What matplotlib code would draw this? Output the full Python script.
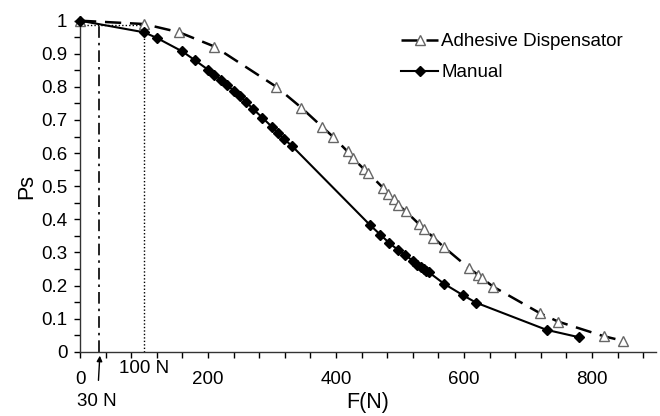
import matplotlib
matplotlib.use("Agg")
import matplotlib.pyplot as plt
from matplotlib.ticker import MultipleLocator

plt.rcParams['font.family'] = ['Liberation Sans', 'DejaVu Sans']

# Adhesive Dispensator
adh_F = [0, 100, 155, 210, 307, 346, 378, 395, 418, 426, 443, 450, 474, 482, 490,
         497, 509, 530, 538, 552, 568, 608, 622, 628, 646, 719, 747, 818, 848]
adh_P = [1.0, 0.99, 0.965, 0.922, 0.80, 0.737, 0.68, 0.65, 0.605, 0.585, 0.553, 0.541,
         0.494, 0.476, 0.46, 0.444, 0.424, 0.385, 0.372, 0.345, 0.317, 0.252, 0.232,
         0.222, 0.196, 0.116, 0.091, 0.047, 0.033]

# Manual
man_F = [0, 100, 120, 160, 180, 200, 210, 220, 230, 240, 250, 260, 270, 285, 300, 309,
         319, 331, 453, 469, 483, 497, 508, 520, 527, 533, 537, 541, 545, 569, 599, 619,
         729, 779]
man_P = [1.0, 0.965, 0.948, 0.907, 0.88, 0.852, 0.837, 0.821, 0.805, 0.789, 0.772,
         0.754, 0.734, 0.707, 0.679, 0.661, 0.642, 0.622, 0.383, 0.354, 0.329, 0.307,
         0.292, 0.275, 0.262, 0.255, 0.25, 0.245, 0.24, 0.205, 0.170, 0.148, 0.066, 0.044]

x_ticks = [0, 200, 400, 600, 800]
y_ticks = [0, 0.1, 0.2, 0.3, 0.4, 0.5, 0.6, 0.7, 0.8, 0.9, 1]
y_labels = ['0', '0.1', '0.2', '0.3', '0.4', '0.5', '0.6', '0.7', '0.8', '0.9', '1']

fig = plt.figure(figsize=(6.6, 4.16), dpi=100)
ax = fig.add_axes([80/660, 1 - 351.7/416, 576/660, 331/416])

# reference lines
ax.plot([100, 100], [0, 0.99], color='black', lw=1.0, linestyle=(0, (1, 1.5)))
ax.plot([0, 100], [0.987, 0.987], color='black', lw=1.0, linestyle=(0, (1, 1.5)))
ax.plot([30, 30], [0, 0.985], color='black', lw=1.2, linestyle=(0, (7, 3, 1.5, 3)))

ax.plot(adh_F, adh_P, color='black', lw=1.8, linestyle=(0, (6.5, 3.5)),
        marker='^', markersize=7, markerfacecolor='white', markeredgecolor='#666666',
        markeredgewidth=1.0, label='Adhesive Dispensator', clip_on=False, zorder=3)
ax.plot(man_F, man_P, color='black', lw=1.5, linestyle='-',
        marker='D', markersize=5, markerfacecolor='black', markeredgecolor='black',
        label='Manual', clip_on=False, zorder=4)

ax.set_xlim(0, 900)
ax.set_ylim(0, 1)
ax.set_xticks(x_ticks)
ax.set_xticklabels([str(v) for v in x_ticks])
ax.set_yticks(y_ticks)
ax.set_yticklabels(y_labels)
ax.xaxis.set_minor_locator(MultipleLocator(40))
ax.yaxis.set_minor_locator(MultipleLocator(0.05))
ax.tick_params(axis='both', which='both', direction='out', length=4, width=1.0,
               labelsize=13.5, colors='black')
ax.tick_params(axis='x', which='major', pad=10)
ax.tick_params(axis='y', which='major', pad=5)

for s in ['top', 'right']:
    ax.spines[s].set_visible(False)
for s in ['left', 'bottom']:
    ax.spines[s].set_linewidth(1.0)
    ax.spines[s].set_color('#333333')

ax.set_xlabel('F(N)', fontsize=15.5, labelpad=3)
ax.set_ylabel('Ps', fontsize=15.5, labelpad=3)

ax.text(100, -0.052, '100 N', fontsize=13.5, ha='center', va='center')
ax.annotate('30 N', xy=(31, -0.012), xytext=(27, -0.15), fontsize=13.5,
            ha='center', va='center', annotation_clip=False,
            arrowprops=dict(arrowstyle='-|>', color='black', lw=1.0,
                            mutation_scale=8, shrinkA=7, shrinkB=0))

ax.legend(loc='upper left', bbox_to_anchor=(0.544, 0.985), frameon=False,
          fontsize=13.5, handlelength=2.0, handletextpad=0.15, labelspacing=0.75,
          borderaxespad=0)

fig.savefig('out.png', dpi=100)
